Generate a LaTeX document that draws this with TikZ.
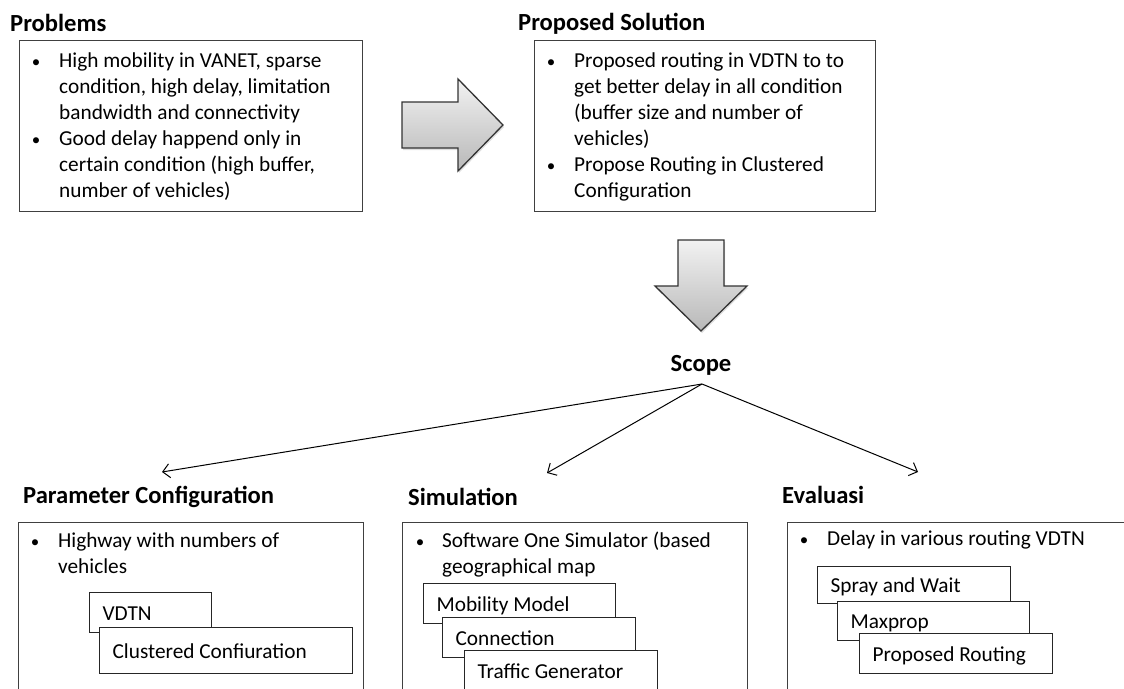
\documentclass[tikz,border=0pt]{standalone}
\usepackage{fontspec}
\setmainfont{Carlito}
\usetikzlibrary{arrows.meta,shadows}

% one left-aligned label line in a box of fixed inner width
\newcommand\sublabel[2]{\makebox[#1][l]{\rule[-4pt]{0pt}{23pt}#2}}

\definecolor{boxline}{HTML}{404040}
\definecolor{arrowline}{HTML}{333333}
\definecolor{shadetop}{HTML}{F2F2F2}
\definecolor{shadebot}{HTML}{B8B8B8}

\tikzset{
  heading/.style={font=\fontsize{24.6}{29}\selectfont\bfseries, inner sep=0pt, anchor=base west},
  bodytext/.style={font=\fontsize{21.3}{26}\selectfont, inner sep=0pt, anchor=north west, align=left},
  bulletmark/.style={font=\fontsize{17}{20}\selectfont, inner sep=0pt, anchor=base},
  panel/.style={draw=boxline, line width=1.3pt, fill=white, inner sep=0pt, anchor=north west},
  subbox/.style={draw=black!85, line width=1.2pt, fill=white, inner ysep=0pt, inner xsep=13pt,
    anchor=north west, minimum height=40pt, font=\fontsize{21.3}{26}\selectfont},
  blockarrow/.style={draw=arrowline, line width=1.3pt, line join=miter,
    top color=shadetop, bottom color=shadebot,
    drop shadow={opacity=0.25, shadow xshift=1pt, shadow yshift=-2pt}},
  branch/.style={draw=black, line width=1pt, -{Straight Barb[length=7pt,width=14pt]}},
}

\begin{document}
\begin{tikzpicture}[x=1pt, y=-1pt]
\useasboundingbox (0,0) rectangle (1124,688);
\clip (0,0) rectangle (1124,688);

% ---------- top row: problems -> proposed solution ----------
\node[heading] (probhead) at (10,31) {Problems};
\node[panel, minimum width=343pt, minimum height=171pt] (probbox) at (19,40) {};
\node[bulletmark] (probdot1) at (36,67) {•};
\node[bodytext] (probtxt1) at (59,48.8) {\strut High mobility in VANET, sparse\\condition, high delay, limitation\\bandwidth and connectivity};
\node[bulletmark] (probdot2) at (36,145) {•};
\node[bodytext] (probtxt2) at (59,126.8) {\strut Good delay happend only in\\certain condition (high buffer,\\number of vehicles)};

\path[blockarrow] (402,102) -- (458,102) -- (458,79) -- (503,125)
  -- (458,171) -- (458,148) -- (402,148) -- cycle;

\node[heading] (solhead) at (518,30) {Proposed Solution};
\node[panel, minimum width=341pt, minimum height=171pt] (solbox) at (534,40) {};
\node[bulletmark] (soldot1) at (551,67) {•};
\node[bodytext] (soltxt1) at (574,48.8) {\strut Proposed routing in VDTN to to\\get better delay in all condition\\(buffer size and number of\\vehicles)};
\node[bulletmark] (soldot2) at (551,171) {•};
\node[bodytext] (soltxt2) at (574,152.8) {\strut Propose Routing in Clustered\\Configuration};

\path[blockarrow] (678,240) -- (724,240) -- (724,286) -- (747,286)
  -- (701,331) -- (655,286) -- (678,286) -- cycle;

% ---------- scope and its three branches ----------
\node[heading, anchor=base] (scope) at (701,371) {Scope};
\coordinate (apex) at (702,384);
\coordinate (tipparam) at (162,472);
\coordinate (tipsim) at (547,473);
\coordinate (tipeval) at (918,472);
\draw[branch] (apex) -- (tipparam);
\draw[branch] (apex) -- (tipsim);
\draw[branch] (apex) -- (tipeval);

% ---------- parameter configuration ----------
\node[heading] (paramhead) at (23,503) {Parameter Configuration};
\node[panel, minimum width=345pt, minimum height=200pt] (parambox) at (18,522) {};
\node[bulletmark] (paramdot) at (35,547) {•};
\node[bodytext] (paramtxt) at (58,528.8) {\strut Highway with numbers of\\vehicles};
\node[subbox] (vdtn) at (89,592) {\sublabel{96pt}{VDTN}};
\node[subbox, minimum height=46pt] (clustered) at (99,627) {\sublabel{227pt}{Clustered Confiuration}};

% ---------- simulation ----------
\node[heading] (simhead) at (408,505) {Simulation};
\node[panel, minimum width=345pt, minimum height=200pt] (simbox) at (402,522) {};
\node[bulletmark] (simdot) at (420,547) {•};
\node[bodytext] (simtxt) at (442,528.8) {\strut Software One Simulator (based\\geographical map};
\node[subbox] (mobility) at (423,583) {\sublabel{166pt}{Mobility Model}};
\node[subbox] (connection) at (442,617) {\sublabel{167pt}{Connection}};
\node[subbox] (traffic) at (464,650) {\sublabel{167pt}{Traffic Generator}};

% ---------- evaluation ----------
\node[heading] (evalhead) at (782,503) {Evaluasi};
\node[panel, minimum width=360pt, minimum height=200pt] (evalbox) at (787,522) {};
\node[bulletmark] (evaldot) at (804,545) {•};
\node[bodytext] (evaltxt) at (827,526.8) {\strut Delay in various routing VDTN};
\node[subbox, minimum height=37pt] (spray) at (817,566) {\sublabel{167pt}{Spray and Wait}};
\node[subbox, minimum height=39pt] (maxprop) at (837,601) {\sublabel{166pt}{Maxprop}};
\node[subbox] (proprouting) at (859,633) {\sublabel{167pt}{Proposed Routing}};
\end{tikzpicture}
\end{document}
